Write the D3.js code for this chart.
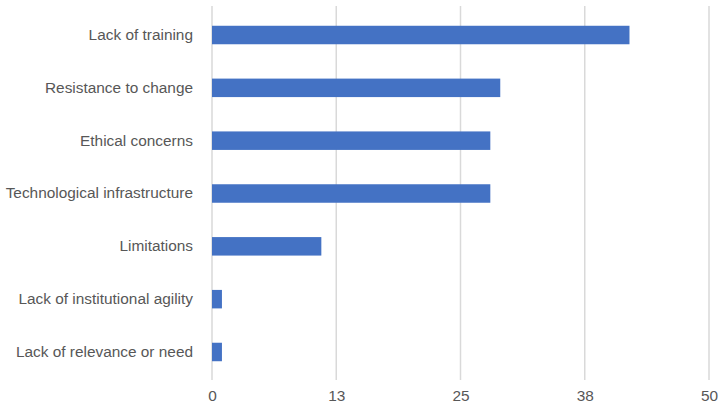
<!DOCTYPE html>
<html><head><meta charset="utf-8">
<script src="https://cdn.jsdelivr.net/npm/d3@7"></script>
<style>body{margin:0;background:#fff}svg{display:block}</style>
</head><body>
<script>
const categories = ["Lack of training","Resistance to change","Ethical concerns","Technological infrastructure","Limitations","Lack of institutional agility","Lack of relevance or need"];
const values = [42, 29, 28, 28, 11, 1, 1];
const tickValues = [0, 12.5, 25, 37.5, 50];
const tickLabels = ["0","13","25","38","50"];

const W = 719, H = 405;
const svg = d3.select("body").append("svg").attr("width", W).attr("height", H);
const x = d3.scaleLinear().domain([0, 50]).range([212, 709]);
const y = d3.scaleBand().domain(categories).range([8.6, 378.4]).paddingInner(0.65).paddingOuter(0.325);

// gridlines
svg.append("g").selectAll("line").data(tickValues).join("line")
  .attr("x1", d => x(d)).attr("x2", d => x(d))
  .attr("y1", 6).attr("y2", 380)
  .attr("stroke", "#d9d9d9").attr("stroke-width", 1.5);

// bars
svg.append("g").selectAll("rect").data(values).join("rect")
  .attr("x", x(0)).attr("y", (d, i) => y(categories[i]))
  .attr("width", d => x(d) - x(0)).attr("height", y.bandwidth())
  .attr("fill", "#4472c4");

// x axis
const xAxis = d3.axisBottom(x).tickValues(tickValues).tickFormat((d, i) => tickLabels[i]).tickSize(0).tickPadding(0);
const gx = svg.append("g").attr("transform", "translate(0,390)").call(xAxis);
gx.select(".domain").remove();
gx.selectAll("text").attr("font-family", "Liberation Sans, Arial, Helvetica, sans-serif").attr("font-size", 15.4).attr("fill", "#575757");

// y axis
const yAxis = d3.axisLeft(y).tickSize(0).tickPadding(19);
const gy = svg.append("g").attr("transform", "translate(212,0)").call(yAxis);
gy.select(".domain").remove();
gy.selectAll("text").attr("font-family", "Liberation Sans, Arial, Helvetica, sans-serif").attr("font-size", 15.4).attr("fill", "#575757");
</script>
</body></html>
